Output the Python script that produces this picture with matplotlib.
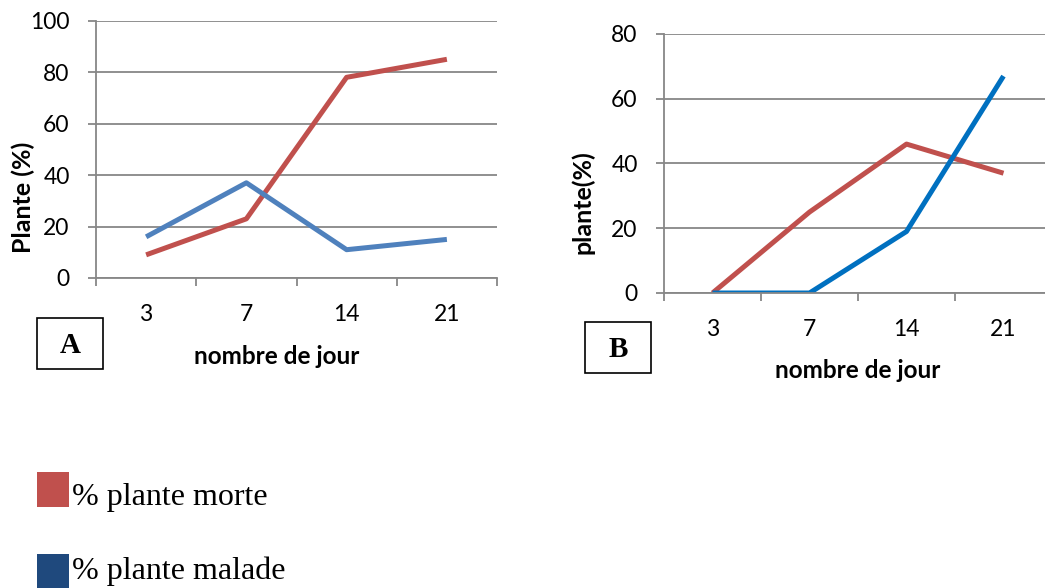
import matplotlib
matplotlib.use('Agg')
import matplotlib.pyplot as plt
from matplotlib.patches import Rectangle

days = ['3', '7', '14', '21']
a_morte = [9, 23, 78, 85]
a_malade = [16, 37, 11, 15]
b_morte = [0, 25, 46, 37]
b_malade = [0, 0, 19, 67]

RED = '#C0504D'
BLUE_A = '#4F81BD'
BLUE_B = '#0070C0'
GRID = '#878787'

plt.rcParams['font.family'] = ['Lato', 'DejaVu Sans']

W, H = 1045, 588
fig = plt.figure(figsize=(W / 100, H / 100), dpi=100)


def px(x0, y0, x1, y1):
    # pixel box (top-left origin) -> figure fraction rect
    return [x0 / W, 1 - y1 / H, (x1 - x0) / W, (y1 - y0) / H]


def setup(ax, ymax, step):
    xs = range(len(days))
    ax.set_xlim(-0.5, len(days) - 0.5)
    ax.set_ylim(0, ymax)
    ax.set_yticks(range(0, ymax + 1, step))
    ax.yaxis.grid(True, color=GRID, lw=1.3)
    ax.set_axisbelow(True)
    for s in ['top', 'right']:
        ax.spines[s].set_visible(False)
    for s in ['left', 'bottom']:
        ax.spines[s].set_color(GRID)
        ax.spines[s].set_linewidth(1.3)
    ax.set_xticks([i - 0.5 for i in range(len(days) + 1)])
    ax.set_xticklabels([])
    ax.set_xticks(list(xs), minor=True)
    ax.set_xticklabels(days, minor=True, fontsize=16.5)
    ax.tick_params(axis='x', which='major', direction='out', length=6,
                   width=1.3, color=GRID)
    ax.tick_params(axis='x', which='minor', length=0, pad=19)
    ax.tick_params(axis='y', direction='out', length=6, width=1.3,
                   color=GRID, labelsize=16.5, pad=13)
    return list(xs)


axA = fig.add_axes(px(96, 20.7, 497, 278))
xs = setup(axA, 100, 20)
axA.plot(xs, a_morte, color=RED, lw=3.6, solid_capstyle='butt')
axA.plot(xs, a_malade, color=BLUE_A, lw=3.6, solid_capstyle='butt')

axB = fig.add_axes(px(664, 34, 1052, 293))
xs = setup(axB, 80, 20)
axB.plot(xs, b_morte, color=RED, lw=3.6, solid_capstyle='butt')
axB.plot(xs, b_malade, color=BLUE_B, lw=3.6, solid_capstyle='butt')

# axis titles
fig.text(23 / W, 1 - 197 / H, 'Plante (%)', rotation=90, ha='center',
         va='center', fontsize=18, fontweight='bold')
fig.text(583 / W, 1 - 202 / H, 'plante(%)', rotation=90, ha='center',
         va='center', fontsize=18, fontweight='bold')
fig.text(277 / W, 1 - 357 / H, 'nombre de jour', ha='center', va='center',
         fontsize=17.5, fontweight='bold')
fig.text(858 / W, 1 - 370 / H, 'nombre de jour', ha='center', va='center',
         fontsize=17.5, fontweight='bold')

# panel boxes
for (x0, y0, x1, y1, lab) in [(37, 318, 103, 369, 'A'), (585, 322, 651, 373, 'B')]:
    fig.add_artist(Rectangle((x0 / W, 1 - y1 / H), (x1 - x0) / W, (y1 - y0) / H,
                             transform=fig.transFigure, fill=False,
                             edgecolor='black', lw=1.2))
    fig.text((x0 + x1) / 2 / W, 1 - ((y0 + y1) / 2 + 2) / H, lab, ha='center',
             va='center', fontsize=21, fontweight='bold',
             family=['Liberation Serif', 'DejaVu Serif'])

# legend
for (y0, y1, col, lab, base) in [(472, 507, RED, '% plante morte', 505),
                                 (554, 589, '#1F497D', '% plante malade', 579)]:
    fig.add_artist(Rectangle((37 / W, 1 - y1 / H), 32 / W, (y1 - y0) / H,
                             transform=fig.transFigure, color=col, lw=0))
    fig.text(72 / W, 1 - base / H, lab, ha='left', va='baseline', fontsize=23,
             family=['Liberation Serif', 'DejaVu Serif'])

fig.savefig('out.png', dpi=100)
